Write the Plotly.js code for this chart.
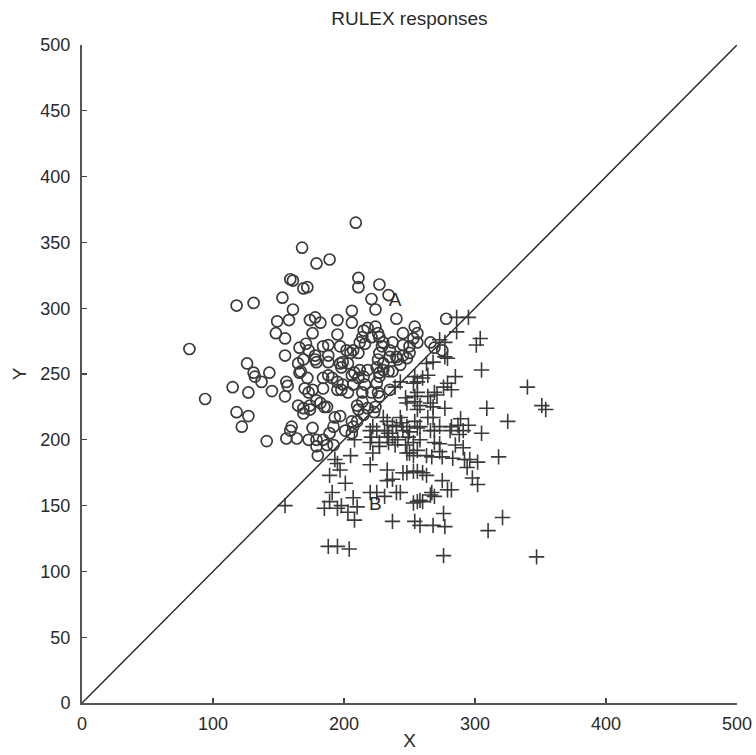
<!DOCTYPE html>
<html>
<head>
<meta charset="utf-8">
<script src="https://cdn.plot.ly/plotly-3.0.1.min.js"></script>
<style>html,body{margin:0;padding:0;background:#fff;}#chart{width:756px;height:755px;}</style>
</head>
<body>
<div id="chart"></div>
<script>
const circleX = [82,94,115,118,131,118,127,122,141,126,127,131,132,137,143,145,168,179,189,159,161,169,172,153,161,149,158,174,178,148,155,176,209,211,211,227,221,224,234,240,206,206,195,254,278,182,195,155,165,167,156,157,155,171,173,178,179,170,173,176,179,165,169,174,169,174,185,160,159,156,164,176,173,179,179,180,188,166,188,178,188,215,218,224,214,221,227,212,216,229,235,245,253,256,250,245,266,202,207,205,199,203,211,227,230,226,225,230,227,234,235,240,243,241,248,245,250,197,198,206,215,218,212,169,166,172,188,191,195,199,198,195,184,207,216,225,227,214,221,226,235,227,197,184,226,230,237,256,269,275,208,211,237,184,203,187,193,197,206,210,207,192,201,206,210,214,211,218,224,223,215,182,189,184,192,187];
const circleY = [269,231,240,302,304,221,218,210,199,258,236,251,248,244,251,237,346,334,337,322,321,315,316,308,299,290,291,291,293,281,277,281,365,323,316,318,307,299,310,292,298,289,291,286,292,289,280,264,258,252,244,241,233,273,268,264,259,239,236,238,230,226,224,223,220,226,225,210,207,201,201,209,200,200,195,188,272,270,264,261,259,283,285,286,278,278,278,274,273,271,268,281,277,274,271,272,274,268,268,266,259,258,266,266,258,261,255,253,251,252,263,263,257,261,262,264,266,258,255,249,248,253,253,261,251,247,249,247,244,242,238,238,239,242,242,243,248,236,236,236,238,233,271,271,281,274,274,281,270,268,251,247,252,247,236,225,217,218,214,214,210,210,207,205,226,229,223,224,225,221,219,228,205,200,196,196];
const plusX = [286,295,286,304,301,277,273,305,277,279,285,340,351,354,309,325,289,295,282,288,305,273,291,318,292,294,302,283,275,267,296,260,263,298,302,275,279,282,267,269,260,276,321,258,268,277,310,276,347,268,263,254,260,264,253,256,279,282,276,269,254,264,243,239,271,256,247,248,254,258,256,266,268,277,264,287,291,281,268,269,266,273,258,254,256,248,250,243,244,240,245,230,233,237,231,234,233,237,225,222,220,221,227,234,241,249,258,253,269,285,256,250,263,273,155,188,195,204,189,201,191,189,185,195,198,203,208,210,207,205,195,193,220,220,225,231,243,240,237,253,256,254,233,237,227,222,248,253,256,245,253,239,247,248,208,220,266,258,233,197];
const plusY = [293,293,282,277,272,274,276,253,263,262,248,240,226,223,224,214,216,211,210,204,205,197,194,187,185,179,183,186,187,187,185,175,173,171,166,169,162,162,160,157,153,144,141,135,135,134,131,112,111,259,258,248,247,249,243,244,243,238,240,236,233,233,244,240,234,236,232,228,229,226,223,228,225,224,217,211,207,207,217,207,207,210,210,214,209,210,206,217,213,210,207,217,214,211,207,205,202,202,207,210,207,202,198,198,200,202,200,198,198,196,192,190,188,191,150,119,119,117,173,167,160,153,148,148,150,145,139,149,156,188,182,185,181,160,160,157,160,160,138,152,153,138,177,170,195,190,175,176,176,175,188,196,196,190,200,198,158,154,169,177];
const diagX = [0, 500];
const diagY = [0, 500];
const letterText = ['A', 'B'];
const letterX = [239, 224];
const letterY = [305, 150];
const tickVals = [0, 50, 100, 150, 200, 250, 300, 350, 400, 450, 500];
const xTickVals = [0, 100, 200, 300, 400, 500];

const ink = '#2a2a2a';
const markInk = '#3a3a3a';
const fontFam = '"Liberation Sans Narrow", "Liberation Sans", Arial, sans-serif';

const traces = [
  {x: diagX, y: diagY, mode: 'lines', type: 'scatter', line: {color: ink, width: 1.5}, hoverinfo: 'skip', showlegend: false},
  {x: circleX, y: circleY, mode: 'markers', type: 'scatter', showlegend: false,
   marker: {symbol: 'circle-open', size: 11, color: markInk, line: {color: markInk, width: 1.7}}},
  {x: plusX, y: plusY, mode: 'markers', type: 'scatter', showlegend: false,
   marker: {symbol: 'cross-thin-open', size: 11, color: markInk, line: {color: markInk, width: 1.6}}},
  {x: letterX, y: letterY, mode: 'text', type: 'scatter', text: letterText, showlegend: false,
   textfont: {family: fontFam, size: 19, color: ink}, textposition: 'middle center'}
];

const axisCommon = {
  range: [0, 500], showgrid: false, zeroline: false, showline: true, mirror: false,
  linecolor: '#555', linewidth: 2, ticks: 'inside', ticklen: 5, tickwidth: 1.3, tickcolor: '#444',
  tickfont: {family: fontFam, size: 18, color: ink}, automargin: false, fixedrange: true
};

const layout = {
  width: 756, height: 755,
  margin: {l: 82, r: 19, t: 45, b: 52},
  paper_bgcolor: '#fff', plot_bgcolor: '#fff',
  title: {text: 'RULEX responses', x: 0.5415, xanchor: 'center', y: 0.976, yanchor: 'middle',
          font: {family: fontFam, size: 19, color: ink}},
  xaxis: Object.assign({}, axisCommon, {tickvals: xTickVals, ticklabelstandoff: 3,
          title: {text: 'X', standoff: 1, font: {family: fontFam, size: 19, color: ink}}}),
  yaxis: Object.assign({}, axisCommon, {tickvals: tickVals, ticklabelstandoff: 6,
          title: {text: 'Y', standoff: 9, font: {family: fontFam, size: 19, color: ink}}}),
  showlegend: false
};

Plotly.newPlot('chart', traces, layout, {displayModeBar: false, staticPlot: true});
</script>
</body>
</html>
